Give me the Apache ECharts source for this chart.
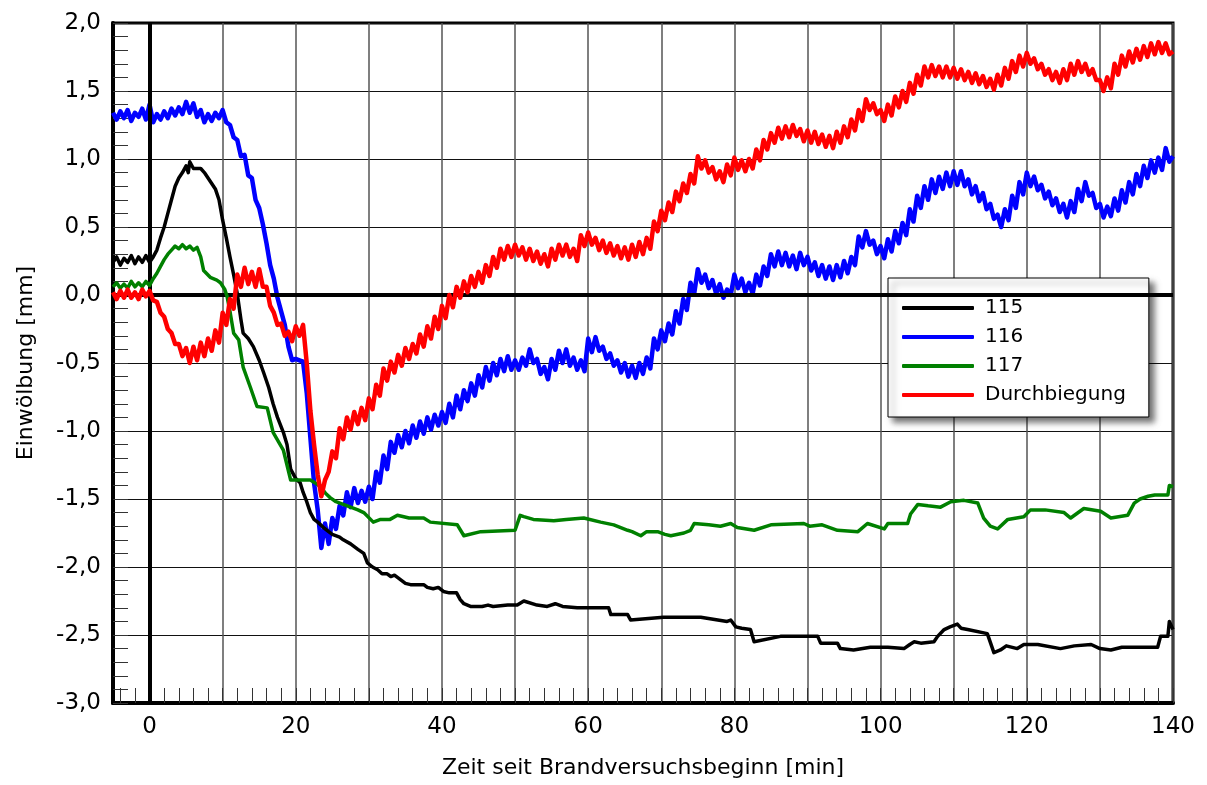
<!DOCTYPE html>
<html>
<head>
<meta charset="utf-8">
<script src="https://cdn.jsdelivr.net/npm/echarts@6/dist/echarts.min.js"></script>
<style>
  html, body { margin: 0; padding: 0; background: #fff; }
  #chart { width: 1207px; height: 785px; }
</style>
</head>
<body>
<div id="chart"></div>
<script>
// Series names as shown in the legend
const seriesNames = ['115', '116', '117', 'Durchbiegung'];

// Axis ticks and labels
const xLabelValues = [0, 20, 40, 60, 80, 100, 120, 140];
const xGridValues = [0, 10, 20, 30, 40, 50, 60, 70, 80, 90, 100, 110, 120, 130, 140];
const xMinorTicks = [-4, -2, 0, 2, 4, 6, 8, 10, 12, 14, 16, 18, 20, 22, 24, 26, 28, 30, 32, 34, 36, 38, 40,
  42, 44, 46, 48, 50, 52, 54, 56, 58, 60, 62, 64, 66, 68, 70, 72, 74, 76, 78, 80, 82, 84, 86, 88, 90,
  92, 94, 96, 98, 100, 102, 104, 106, 108, 110, 112, 114, 116, 118, 120, 122, 124, 126, 128, 130,
  132, 134, 136, 138, 140];

// Sensors 116 and Durchbiegung are logged every 0.5 min starting at -5 min
const sampleStart = -5;
const sampleStep = 0.5;

const values116 = [
  1.34, 1.29, 1.35, 1.30, 1.36, 1.28, 1.34, 1.31, 1.37, 1.29,
  1.40, 1.27, 1.33, 1.29, 1.35, 1.30, 1.37, 1.32, 1.38, 1.33,
  1.42, 1.34, 1.41, 1.31, 1.36, 1.27, 1.33, 1.28, 1.34, 1.30,
  1.36, 1.27, 1.25, 1.16, 1.14, 1.02, 1.03, 0.88, 0.86, 0.70,
  0.64, 0.52, 0.38, 0.22, 0.12, -0.02, -0.12, -0.22, -0.38, -0.48,
  -0.47, -0.48, -0.49, -0.72, -1.05, -1.38, -1.58, -1.86, -1.68, -1.83,
  -1.64, -1.72, -1.55, -1.62, -1.45, -1.56, -1.42, -1.53, -1.44, -1.52,
  -1.41, -1.50, -1.30, -1.38, -1.18, -1.28, -1.08, -1.16, -1.03, -1.12,
  -1.00, -1.09, -0.96, -1.05, -0.93, -1.02, -0.90, -0.99, -0.88, -0.96,
  -0.86, -0.94, -0.80, -0.90, -0.74, -0.84, -0.70, -0.78, -0.65, -0.74,
  -0.59, -0.68, -0.53, -0.63, -0.50, -0.59, -0.47, -0.56, -0.45, -0.55,
  -0.48, -0.55, -0.46, -0.52, -0.40, -0.50, -0.47, -0.58, -0.53, -0.62,
  -0.47, -0.55, -0.41, -0.50, -0.40, -0.52, -0.46, -0.55, -0.48, -0.56,
  -0.32, -0.42, -0.31, -0.41, -0.38, -0.47, -0.43, -0.52, -0.48, -0.57,
  -0.50, -0.60, -0.52, -0.61, -0.50, -0.58, -0.46, -0.54, -0.32, -0.40,
  -0.26, -0.34, -0.21, -0.29, -0.12, -0.21, -0.03, -0.11, 0.09, 0.01,
  0.19, 0.09, 0.15, 0.05, 0.11, 0.01, 0.08, -0.02, 0.04, 0.00,
  0.15, 0.05, 0.12, 0.02, 0.09, 0.01, 0.15, 0.07, 0.21, 0.14,
  0.30, 0.21, 0.32, 0.22, 0.31, 0.21, 0.29, 0.19, 0.31, 0.22,
  0.28, 0.18, 0.24, 0.14, 0.22, 0.12, 0.21, 0.11, 0.22, 0.13,
  0.25, 0.16, 0.28, 0.22, 0.43, 0.35, 0.47, 0.37, 0.40, 0.30,
  0.36, 0.27, 0.41, 0.32, 0.47, 0.38, 0.53, 0.44, 0.63, 0.54,
  0.73, 0.64, 0.80, 0.70, 0.85, 0.75, 0.87, 0.78, 0.90, 0.80,
  0.91, 0.81, 0.91, 0.80, 0.85, 0.74, 0.80, 0.69, 0.75, 0.63,
  0.67, 0.56, 0.59, 0.50, 0.63, 0.55, 0.73, 0.64, 0.83, 0.74,
  0.90, 0.80, 0.87, 0.77, 0.81, 0.71, 0.76, 0.66, 0.71, 0.61,
  0.67, 0.57, 0.69, 0.61, 0.78, 0.69, 0.83, 0.73, 0.75, 0.64,
  0.67, 0.57, 0.65, 0.58, 0.71, 0.62, 0.77, 0.68, 0.83, 0.74,
  0.89, 0.80, 0.95, 0.86, 0.99, 0.90, 1.01, 0.92, 1.08, 0.98,
  1.02
];

const valuesDurchbiegung = [
  0.02, -0.03, 0.03, -0.02, 0.04, -0.02, 0.02, -0.03, 0.04, -0.01,
  0.03, -0.04, -0.05, -0.13, -0.16, -0.25, -0.28, -0.36, -0.36, -0.45,
  -0.39, -0.50, -0.38, -0.48, -0.35, -0.45, -0.32, -0.41, -0.26, -0.35,
  -0.13, -0.22, -0.03, -0.10, 0.15, 0.06, 0.20, 0.08, 0.17, 0.06,
  0.19, 0.06, 0.06, -0.08, -0.13, -0.22, -0.21, -0.30, -0.27, -0.34,
  -0.23, -0.30, -0.22, -0.50, -0.85, -1.10, -1.32, -1.48, -1.36, -1.30,
  -1.15, -1.20, -0.98, -1.06, -0.90, -0.99, -0.86, -0.95, -0.83, -0.92,
  -0.76, -0.84, -0.66, -0.74, -0.54, -0.63, -0.49, -0.57, -0.44, -0.52,
  -0.39, -0.47, -0.36, -0.43, -0.29, -0.38, -0.23, -0.32, -0.16, -0.25,
  -0.08, -0.17, 0.00, -0.09, 0.06, -0.02, 0.10, 0.02, 0.14, 0.06,
  0.17, 0.09, 0.22, 0.14, 0.28, 0.20, 0.34, 0.26, 0.36, 0.28,
  0.37, 0.29, 0.35, 0.26, 0.34, 0.25, 0.32, 0.23, 0.30, 0.21,
  0.34, 0.26, 0.37, 0.29, 0.37, 0.28, 0.34, 0.25, 0.44, 0.36,
  0.46, 0.37, 0.42, 0.33, 0.40, 0.31, 0.38, 0.29, 0.36, 0.27,
  0.35, 0.26, 0.37, 0.28, 0.39, 0.30, 0.42, 0.34, 0.54, 0.47,
  0.62, 0.55, 0.68, 0.61, 0.76, 0.69, 0.82, 0.75, 0.89, 0.82,
  1.02, 0.93, 0.99, 0.90, 0.94, 0.85, 0.91, 0.83, 0.96, 0.88,
  1.01, 0.92, 0.99, 0.91, 1.00, 0.93, 1.07, 0.99, 1.14, 1.07,
  1.19, 1.12, 1.23, 1.15, 1.24, 1.16, 1.25, 1.17, 1.22, 1.13,
  1.21, 1.12, 1.20, 1.11, 1.18, 1.09, 1.17, 1.08, 1.20, 1.12,
  1.24, 1.16, 1.29, 1.21, 1.36, 1.28, 1.44, 1.36, 1.41, 1.33,
  1.36, 1.28, 1.40, 1.32, 1.46, 1.38, 1.50, 1.42, 1.56, 1.48,
  1.62, 1.54, 1.68, 1.60, 1.69, 1.61, 1.68, 1.60, 1.68, 1.60,
  1.67, 1.59, 1.66, 1.58, 1.64, 1.56, 1.63, 1.55, 1.61, 1.53,
  1.59, 1.51, 1.62, 1.54, 1.67, 1.59, 1.72, 1.64, 1.76, 1.68,
  1.78, 1.70, 1.74, 1.66, 1.70, 1.62, 1.66, 1.58, 1.64, 1.56,
  1.66, 1.58, 1.70, 1.62, 1.72, 1.64, 1.70, 1.62, 1.66, 1.58,
  1.58, 1.50, 1.60, 1.52, 1.70, 1.62, 1.76, 1.68, 1.79, 1.71,
  1.81, 1.73, 1.83, 1.75, 1.85, 1.77, 1.86, 1.78, 1.85, 1.77,
  1.79
];

// Sensors 115 and 117: [time in min, deflection in mm]
const points115 = [
  [-5, 0.24], [-4.5, 0.28], [-4, 0.22], [-3.5, 0.27], [-3, 0.24], [-2.5, 0.29], [-2, 0.23], [-1.5, 0.28],
  [-1, 0.24], [-0.5, 0.29], [0, 0.24], [0.5, 0.28], [1, 0.33], [1.5, 0.42], [2, 0.50], [2.5, 0.60],
  [3, 0.70], [3.5, 0.80], [4, 0.86], [4.5, 0.90], [5, 0.95], [5.3, 0.90], [5.5, 0.98], [6, 0.93],
  [7, 0.93], [7.5, 0.90], [8, 0.86], [8.5, 0.82], [9, 0.78], [9.5, 0.70], [10, 0.55], [10.5, 0.42],
  [11, 0.28], [11.5, 0.15], [12, 0.01], [12.5, -0.18], [12.8, -0.28], [13.5, -0.32], [14.2, -0.38],
  [15, -0.48], [15.6, -0.57], [16.3, -0.68], [16.9, -0.80], [17.5, -0.90], [18.3, -1.01], [18.8, -1.10],
  [19.3, -1.28], [20, -1.35], [20.6, -1.38], [21, -1.45], [21.5, -1.52], [22, -1.60], [22.5, -1.65],
  [23, -1.67], [23.8, -1.71], [24.5, -1.74], [25, -1.76], [26, -1.78], [26.5, -1.80], [27.5, -1.83],
  [28.5, -1.87], [29.3, -1.90], [29.8, -1.97], [30.5, -2.00], [31.2, -2.02], [31.8, -2.05], [32.5, -2.05],
  [33, -2.07], [33.5, -2.06], [34, -2.08], [35, -2.12], [35.7, -2.13], [37.5, -2.13], [38, -2.15],
  [38.8, -2.16], [39.5, -2.15], [40.2, -2.18], [41, -2.19], [42, -2.19], [42.5, -2.24], [43, -2.27],
  [43.9, -2.29], [45.5, -2.29], [46.3, -2.28], [47, -2.29], [49, -2.28], [50.3, -2.28], [51.2, -2.25],
  [53, -2.28], [54.4, -2.29], [55.5, -2.27], [56.5, -2.29], [58.5, -2.30], [62.8, -2.30], [63.1, -2.35],
  [65.4, -2.35], [65.8, -2.39], [70.3, -2.37], [75.4, -2.37], [79, -2.40], [79.5, -2.39], [80.2, -2.44],
  [81, -2.45], [82.2, -2.46], [82.7, -2.55], [86.3, -2.51], [91.4, -2.51], [91.8, -2.56], [94.1, -2.56],
  [94.5, -2.60], [96.3, -2.61], [98.6, -2.59], [101, -2.59], [103.2, -2.60], [104, -2.57], [104.6, -2.55],
  [105.5, -2.56], [107.3, -2.55], [107.8, -2.51], [108.7, -2.46], [109.5, -2.44], [110.5, -2.42],
  [111, -2.45], [111.9, -2.46], [114.6, -2.49], [115.5, -2.63], [116.4, -2.61], [117.2, -2.58],
  [118.7, -2.60], [119.6, -2.57], [121.5, -2.57], [124.6, -2.60], [126.5, -2.58], [128.8, -2.57],
  [130, -2.60], [131.5, -2.61], [133, -2.59], [135.2, -2.59], [137.9, -2.59], [138.3, -2.51],
  [139.3, -2.51], [139.5, -2.40], [140, -2.46]
];

const points117 = [
  [-5, 0.06], [-4.5, 0.09], [-4, 0.05], [-3.5, 0.08], [-3, 0.05], [-2.5, 0.10], [-2, 0.06], [-1.5, 0.09],
  [-1, 0.06], [-0.5, 0.10], [0, 0.07], [0.5, 0.12], [1, 0.16], [1.5, 0.21], [2, 0.26], [2.5, 0.30],
  [3, 0.33], [3.5, 0.36], [4, 0.34], [4.5, 0.37], [5, 0.34], [5.5, 0.36], [6, 0.33], [6.5, 0.35],
  [7, 0.28], [7.4, 0.18], [8.3, 0.13], [9.2, 0.11], [9.7, 0.09], [10.3, 0.04], [10.6, -0.01], [11, -0.12],
  [11.5, -0.28], [12.2, -0.33], [12.8, -0.53], [13.8, -0.68], [14.7, -0.82], [16.1, -0.83], [16.9, -1.01],
  [18.3, -1.14], [19.3, -1.36], [21.1, -1.36], [22, -1.36], [22.6, -1.38], [23.4, -1.41], [24.1, -1.46],
  [24.7, -1.49], [25.5, -1.52], [26.5, -1.54], [27.5, -1.56], [28.5, -1.58], [29.3, -1.60], [30.6, -1.67],
  [31.6, -1.65], [32.9, -1.65], [33.9, -1.62], [35.5, -1.64], [37.5, -1.64], [38.4, -1.67], [42.1, -1.69],
  [43, -1.77], [45.3, -1.74], [50, -1.73], [50.7, -1.62], [51.2, -1.63], [52.5, -1.65], [55.3, -1.66],
  [57, -1.65], [59.4, -1.64], [61.7, -1.67], [63.5, -1.69], [65.4, -1.73], [66, -1.74], [67.2, -1.77],
  [68, -1.74], [69.5, -1.74], [70.5, -1.76], [71.3, -1.77], [73.1, -1.75], [74, -1.73], [74.5, -1.68],
  [76.5, -1.69], [78.1, -1.70], [79.5, -1.68], [80.4, -1.71], [82.7, -1.73], [85, -1.69], [89.5, -1.68],
  [90.3, -1.70], [92, -1.69], [94.1, -1.73], [96.9, -1.74], [98.2, -1.68], [100.5, -1.72], [101, -1.68],
  [103.7, -1.68], [104.1, -1.61], [105.1, -1.54], [106.5, -1.55], [108.2, -1.56], [109.6, -1.52],
  [111.4, -1.51], [113.3, -1.53], [114.1, -1.64], [115, -1.70], [116, -1.72], [117.4, -1.65],
  [119.6, -1.63], [120.5, -1.58], [122.5, -1.58], [125.1, -1.60], [126, -1.64], [127.8, -1.57],
  [130.1, -1.59], [131.5, -1.64], [133.8, -1.62], [134.7, -1.53], [135.5, -1.50], [136.6, -1.48],
  [137.5, -1.47], [139.3, -1.47], [139.5, -1.40], [140, -1.41]
];

const seriesColors = ['#000000', '#0000ff', '#008000', '#ff0000'];

const FONT = 'DejaVu Sans';
const withTime = arr => arr.map((v, i) => [sampleStart + i * sampleStep, v]);
const commaDecimal = v => v.toFixed(1).replace('.', ',');

function lineSeries(idx, data, width, z) {
  return {
    name: seriesNames[idx],
    type: 'line',
    data: data,
    symbol: 'none',
    showSymbol: false,
    z: z,
    emphasis: { disabled: true },
    lineStyle: { color: seriesColors[idx], width: width, join: 'round' },
    itemStyle: { color: seriesColors[idx] }
  };
}

const chart = echarts.init(document.getElementById('chart'), null, { renderer: 'canvas' });

chart.setOption({
  animation: false,
  backgroundColor: '#ffffff',
  textStyle: { fontFamily: FONT },
  grid: {
    left: 113, right: 34, top: 23, bottom: 82,
    show: true, borderColor: '#000', borderWidth: 3, backgroundColor: 'transparent'
  },
  xAxis: [{
    type: 'value', min: -5, max: 140,
    name: 'Zeit seit Brandversuchsbeginn [min]',
    nameLocation: 'middle', nameGap: 54,
    nameTextStyle: { fontSize: 22, color: '#000', fontFamily: FONT },
    axisLine: { show: true, onZero: false, lineStyle: { color: '#000', width: 4 } },
    axisTick: { show: false, customValues: xGridValues },
    axisLabel: { customValues: xLabelValues, fontSize: 23, color: '#000', margin: 13, fontFamily: FONT,
      formatter: v => String(v) },
    splitLine: { show: true, lineStyle: { color: '#555', width: 1.5 } }
  }, {
    // minor ticks every 2 min along the bottom edge
    type: 'value', min: -5, max: 140, position: 'bottom',
    axisLine: { show: false, onZero: false }, axisLabel: { show: false }, splitLine: { show: false },
    axisTick: { show: true, inside: true, length: 15, customValues: xMinorTicks,
      lineStyle: { color: '#333', width: 1 } }
  }],
  yAxis: {
    type: 'value', min: -3, max: 2, interval: 0.5,
    name: 'Einwölbung [mm]', nameLocation: 'middle', nameGap: 76,
    nameTextStyle: { fontSize: 22, color: '#000', fontFamily: FONT },
    axisLine: { show: true, onZero: false, lineStyle: { color: '#000', width: 4 } },
    axisTick: { show: true, inside: true, length: 15, lineStyle: { color: '#333', width: 1 } },
    minorTick: { show: true, splitNumber: 5, length: 15, lineStyle: { color: '#333', width: 1 } },
    axisLabel: { formatter: commaDecimal, fontSize: 23, color: '#000', margin: 12, fontFamily: FONT },
    splitLine: { show: true, lineStyle: { color: '#111', width: 1 } }
  },
  legend: {
    orient: 'vertical', left: 888, top: 278,
    data: seriesNames, selectedMode: false,
    icon: 'roundRect', itemWidth: 72, itemHeight: 4, itemGap: 9,
    padding: [20, 23, 12, 14],
    backgroundColor: '#fff', borderColor: '#000', borderWidth: 1,
    shadowColor: 'rgba(0,0,0,0.55)', shadowBlur: 6, shadowOffsetX: 5, shadowOffsetY: 5,
    textStyle: { fontSize: 20, color: '#000', fontFamily: FONT, lineHeight: 20, padding: [0, 0, 0, 6] }
  },
  series: [
    {
      // heavy reference lines through x = 0 and y = 0
      name: 'zero', type: 'line', data: [], z: 1, silent: true,
      markLine: {
        silent: true, symbol: 'none', animation: false,
        label: { show: false },
        lineStyle: { color: '#000', width: 4, type: 'solid' },
        emphasis: { disabled: true },
        data: [{ xAxis: 0 }, { yAxis: 0 }]
      }
    },
    lineSeries(1, withTime(values116), 4.5, 3),
    lineSeries(0, points115, 3.5, 4),
    lineSeries(2, points117, 3.5, 5),
    lineSeries(3, withTime(valuesDurchbiegung), 4.5, 6)
  ]
});
</script>
</body>
</html>
